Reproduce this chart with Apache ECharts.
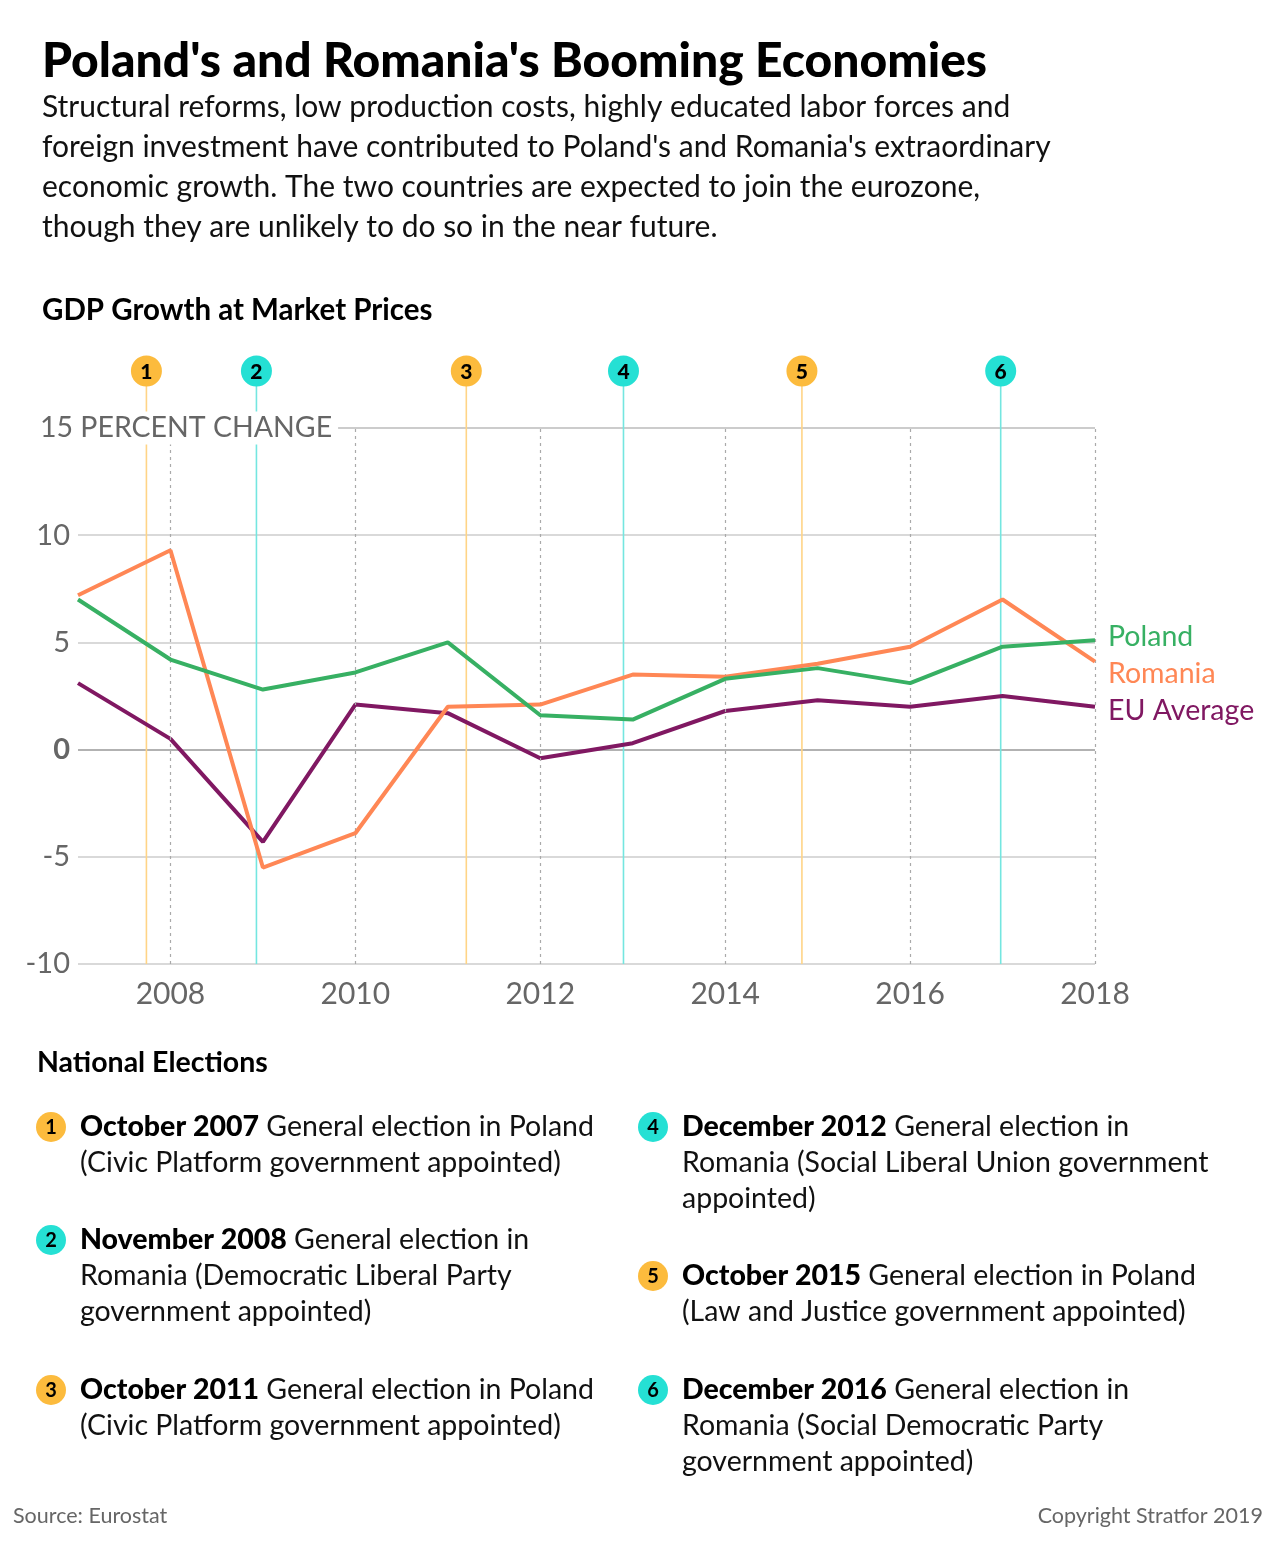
<!DOCTYPE html>
<html>
<head>
<meta charset="utf-8">
<script src="https://cdn.jsdelivr.net/npm/echarts@6/dist/echarts.min.js"></script>
<style>
  html, body { margin: 0; padding: 0; background: #fff; }
  #chart { width: 1280px; height: 1556px; }
</style>
</head>
<body>
<div id="chart"></div>
<script>
// GDP growth at market prices, percent change
var years = [2007, 2008, 2009, 2010, 2011, 2012, 2013, 2014, 2015, 2016, 2017, 2018];
var poland = [7.0, 4.2, 2.8, 3.6, 5.0, 1.6, 1.4, 3.3, 3.8, 3.1, 4.8, 5.1];
var romania = [7.2, 9.3, -5.5, -3.9, 2.0, 2.1, 3.5, 3.4, 4.0, 4.8, 7.0, 4.1];
var euAverage = [3.1, 0.5, -4.3, 2.1, 1.7, -0.4, 0.3, 1.8, 2.3, 2.0, 2.5, 2.0];

var yearTicks = [2008, 2010, 2012, 2014, 2016, 2018];

// national elections (position on the time axis as drawn)
var electionDates = [2007.74, 2008.93, 2011.2, 2012.9, 2014.83, 2016.98];
var electionCountry = ['Poland', 'Romania', 'Poland', 'Romania', 'Poland', 'Romania'];
var electionMonths = ['October 2007', 'November 2008', 'October 2011', 'December 2012', 'October 2015', 'December 2016'];
var electionNotes = [
    'General election in Poland\n(Civic Platform government appointed)',
    'General election in\nRomania (Democratic Liberal Party\ngovernment appointed)',
    'General election in Poland\n(Civic Platform government appointed)',
    'General election in\nRomania (Social Liberal Union government\nappointed)',
    'General election in Poland\n(Law and Justice government appointed)',
    'General election in\nRomania (Social Democratic Party\ngovernment appointed)'
];

var FONT = 'Lato, "Open Sans", sans-serif';
var markerFill = { Poland: '#fcbb3d', Romania: '#25e0d4' };
var markerLine = { Poland: '#ffd486', Romania: '#74e6e0' };

function pairs(vals) {
    var out = [];
    for (var i = 0; i < years.length; i++) {
        out.push([years[i], vals[i]]);
    }
    return out;
}

var myChart = echarts.init(document.getElementById('chart'));

// graphic: titles, notes, footers
var graphics = [
    { type: 'text', x: 42, y: 62, style: { text: "Poland's and Romania's Booming Economies", font: '900 48px ' + FONT, fill: '#000', verticalAlign: 'middle' } },
    { type: 'text', x: 42, y: 87, style: {
        text: "Structural reforms, low production costs, highly educated labor forces and\nforeign investment have contributed to Poland's and Romania's extraordinary\neconomic growth. The two countries are expected to join the eurozone,\nthough they are unlikely to do so in the near future.",
        font: '30px ' + FONT, lineHeight: 40, fill: '#111' } },
    { type: 'text', x: 42, y: 310, style: { text: 'GDP Growth at Market Prices', font: 'bold 29.5px ' + FONT, fill: '#000', verticalAlign: 'middle' } },
    { type: 'text', x: 40, y: 428, z: 100, style: { text: '15 PERCENT CHANGE', font: '28.5px ' + FONT, fill: '#666', verticalAlign: 'middle', backgroundColor: '#fff', padding: [2, 6, 2, 0] } },
    { type: 'text', x: 37, y: 1063, style: { text: 'National Elections', font: 'bold 28.5px ' + FONT, fill: '#000', verticalAlign: 'middle' } },
    { type: 'text', x: 13, y: 1516, style: { text: 'Source: Eurostat', font: '21.5px ' + FONT, fill: '#666', verticalAlign: 'middle' } },
    { type: 'text', x: 1263, y: 1516, style: { text: 'Copyright Stratfor 2019', font: '21.5px ' + FONT, fill: '#666', align: 'right', verticalAlign: 'middle' } }
];

var noteLeft = [80, 80, 80, 682, 682, 682];
var noteTop = [1127, 1240, 1390, 1127, 1276, 1390];
for (var k = 0; k < electionMonths.length; k++) {
    graphics.push({
        type: 'circle', shape: { cx: noteLeft[k] - 29, cy: noteTop[k], r: 15 },
        style: { fill: markerFill[electionCountry[k]] }
    });
    graphics.push({
        type: 'text', x: noteLeft[k] - 29, y: noteTop[k] + 1,
        style: { text: String(k + 1), font: 'bold 20px ' + FONT, fill: '#000', align: 'center', verticalAlign: 'middle' }
    });
    graphics.push({
        type: 'text', x: noteLeft[k], y: noteTop[k] - 18,
        style: {
            text: '{b|' + electionMonths[k] + '} ' + electionNotes[k],
            font: '28.5px ' + FONT, lineHeight: 36, fill: '#111',
            rich: { b: { font: '900 28.5px ' + FONT, fill: '#000', lineHeight: 36 } }
        }
    });
}

var option = {
    animation: false,
    backgroundColor: '#fff',
    textStyle: { fontFamily: FONT },
    grid: { left: 78, right: 185, top: 428, bottom: 592 },
    xAxis: {
        type: 'value',
        min: 2007,
        max: 2018,
        interval: 1,
        axisLine: { show: false },
        axisTick: { show: false },
        splitLine: { show: false },
        axisLabel: {
            fontSize: 30, color: '#666', margin: 15,
            formatter: function (v) { return yearTicks.indexOf(v) >= 0 ? String(v) : ''; }
        }
    },
    yAxis: {
        type: 'value',
        min: -10,
        max: 15,
        interval: 5,
        axisLine: { show: false },
        axisTick: { show: false },
        splitLine: { lineStyle: { color: ['#cccccc', '#cccccc', '#999999', '#cccccc', '#cccccc', '#bbbbbb'], width: 1.5 } },
        axisLabel: {
            fontSize: 29, color: '#666', margin: 8,
            formatter: function (v) {
                if (v === 15) return '';
                if (v === 0) return '{z|0}';
                return String(v);
            },
            rich: { z: { fontSize: 29, fontWeight: 'bold', color: '#666' } }
        }
    },
    graphic: graphics,
    series: [
        {
            name: 'gridYears',
            type: 'line',
            data: [],
            silent: true,
            markLine: {
                silent: true,
                symbol: ['none', 'none'],
                label: { show: false },
                lineStyle: { color: '#aaa', type: [3, 4], width: 1.2 },
                data: yearTicks.map(function (y) { return { xAxis: y }; })
            }
        },
        {
            name: 'elections',
            type: 'custom',
            clip: false,
            silent: true,
            z: 3,
            data: electionDates.map(function (d, i) { return [d, i]; }),
            renderItem: function (params, api) {
                var idx = api.value(1);
                var country = electionCountry[idx];
                var bottom = api.coord([api.value(0), -10]);
                var top = api.coord([api.value(0), 15]);
                var cy = top[1] - 57;
                return {
                    type: 'group',
                    children: [
                        { type: 'line', shape: { x1: bottom[0], y1: cy, x2: bottom[0], y2: bottom[1] }, style: { stroke: markerLine[country], lineWidth: 1.6 } },
                        { type: 'circle', shape: { cx: bottom[0], cy: cy, r: 15.5 }, style: { fill: markerFill[country] } },
                        { type: 'text', style: { text: String(idx + 1), x: bottom[0], y: cy + 1, align: 'center', verticalAlign: 'middle', font: '900 21px ' + FONT, fill: '#000' } }
                    ]
                };
            }
        },
        {
            name: 'EU Average',
            type: 'line',
            z: 4,
            data: pairs(euAverage),
            symbol: 'none',
            lineStyle: { color: '#801862', width: 4 },
            endLabel: { show: true, formatter: '{a}', color: '#801862', fontSize: 28.5, distance: 13, offset: [0, 4] }
        },
        {
            name: 'Romania',
            type: 'line',
            z: 5,
            data: pairs(romania),
            symbol: 'none',
            lineStyle: { color: '#ff8755', width: 4 },
            endLabel: { show: true, formatter: '{a}', color: '#ff8755', fontSize: 28.5, distance: 13, offset: [0, 12] }
        },
        {
            name: 'Poland',
            type: 'line',
            z: 6,
            data: pairs(poland),
            symbol: 'none',
            lineStyle: { color: '#37b063', width: 4 },
            endLabel: { show: true, formatter: '{a}', color: '#37b063', fontSize: 28.5, distance: 13, offset: [0, -3] }
        }
    ]
};

myChart.setOption(option);
</script>
</body>
</html>
